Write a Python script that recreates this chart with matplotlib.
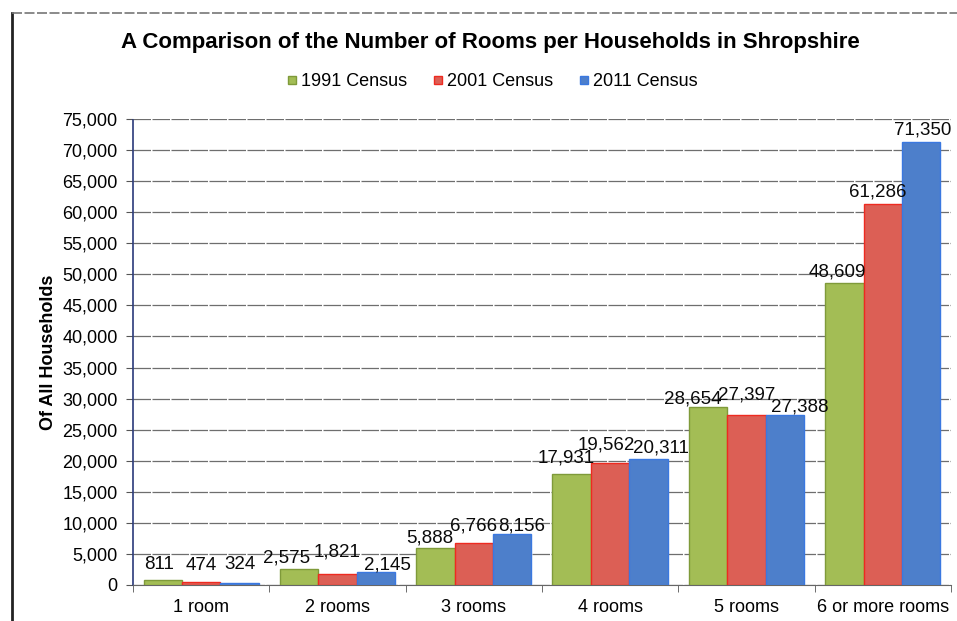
import numpy as np
import matplotlib
matplotlib.use("Agg")
import matplotlib.pyplot as plt
from matplotlib.lines import Line2D
from matplotlib.ticker import FuncFormatter, FixedLocator

plt.rcParams['font.family'] = ['Liberation Sans', 'DejaVu Sans']

rooms = ['1 room', '2 rooms', '3 rooms', '4 rooms', '5 rooms', '6 or more rooms']
census_1991 = [811, 2575, 5888, 17931, 28654, 48609]
census_2001 = [474, 1821, 6766, 19562, 27397, 61286]
census_2011 = [324, 2145, 8156, 20311, 27388, 71350]
series_names = ['1991 Census', '2001 Census', '2011 Census']

fills = ['#a3bd55', '#dc5f55', '#4d7fcb']
edges = ['#7f9a3a', '#ee2a20', '#3a78e0']

# hand-placed value labels: shift from bar centre / height above bar top, in pixels
label_dx = [[-4, -13, -6, -6, -15, -7],
            [0, 0, 0, -4, 0, -5],
            [0, 11, 9, 12, 15, 1]]
label_dy = [[15, 11, 10, 16, 8, 11],
            [17, 22, 17, 18, 20, 12],
            [18, 7, 8, 11, 8, 12]]

fig = plt.figure(figsize=(9.57, 6.21), dpi=100)
ax = fig.add_axes([0.139, 0.058, 0.8547, 0.7504])

x = np.arange(len(rooms))
w = 0.282
px = 72.0 / fig.dpi
for i, (vals, fc, ec) in enumerate(zip([census_1991, census_2001, census_2011], fills, edges)):
    bars = ax.bar(x + (i - 1) * w, vals, w, color=fc, edgecolor=ec, linewidth=1.0,
                  label=series_names[i], zorder=3)
    for j, (b, v) in enumerate(zip(bars, vals)):
        ax.annotate(f'{v:,}', (b.get_x() + b.get_width() / 2, v),
                    xytext=(label_dx[i][j] * px, label_dy[i][j] * px),
                    textcoords='offset points', ha='center', va='center',
                    fontsize=13.5, color='#0a0a0a', zorder=5)

ax.set_xlim(-0.5, 5.5)
ax.set_ylim(0, 75000)
ax.yaxis.set_major_locator(FixedLocator(np.arange(0, 75001, 5000)))
ax.yaxis.set_major_formatter(FuncFormatter(lambda v, p: f'{int(v):,}'))
ax.tick_params(axis='y', labelsize=13, length=5, color='#555555', pad=6)
ax.set_xticks(x)
ax.set_xticklabels(rooms, fontsize=13)
ax.set_xticks(np.arange(-0.5, 6.0, 1), minor=True)
ax.tick_params(axis='x', which='major', length=0, pad=10)
ax.tick_params(axis='x', which='minor', length=5, color='#555555')

ax.grid(axis='y', color='#6e6e6e', linewidth=0.9, linestyle=(0, (14, 1.2)), zorder=0)
for s in ['top', 'right']:
    ax.spines[s].set_visible(False)
ax.spines['left'].set_color('#2a3a7a')
ax.spines['left'].set_linestyle((0, (1, 1)))
ax.spines['left'].set_linewidth(1.2)
ax.spines['bottom'].set_color('#666666')

ax.set_ylabel('Of All Households', fontsize=13, fontweight='bold', labelpad=4)

fig.text(0.512, 0.932, 'A Comparison of the Number of Rooms per Households in Shropshire',
         ha='center', va='center', fontsize=16, fontweight='bold')

handles = [Line2D([], [], marker='s', linestyle='none', markersize=6,
                  markerfacecolor=fc, markeredgecolor=ec) for fc, ec in zip(fills, edges)]
fig.legend(handles, series_names, loc='center', bbox_to_anchor=(0.513, 0.869), ncol=3,
           frameon=False, fontsize=13, handletextpad=0.1, columnspacing=1.3,
           handlelength=0.8)

# chart frame
fig.add_artist(Line2D([0.0125, 0.0125], [0.0, 0.979], color='#222222', linewidth=2))
fig.add_artist(Line2D([0.0125, 1.0], [0.979, 0.979], color='#777777', linewidth=1.2,
                      linestyle=(0, (6, 1.5))))

fig.savefig('out.png', dpi=100)
